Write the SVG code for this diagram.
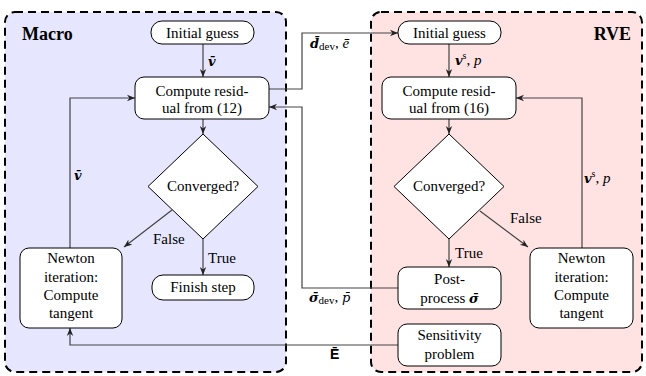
<svg xmlns="http://www.w3.org/2000/svg" width="646" height="376" viewBox="0 0 646 376" font-family="Liberation Serif, Times New Roman, serif">
<style>
text{font-family:'Liberation Serif',serif}
.t{font-size:15px;fill:#000;text-anchor:middle}
.l{font-size:15px;fill:#000}
.mb{font-family:'DejaVu Serif',serif;font-style:italic;font-weight:bold;font-size:13px}
.mi{font-family:'DejaVu Serif',serif;font-style:italic;font-size:13px}
.box{fill:#fff;stroke:#000;stroke-width:1}
.ca{fill:none;stroke:#444;stroke-width:1.2;marker-end:url(#a)}
.reg{stroke:#000;stroke-width:2;stroke-dasharray:8 5}
.ttl{font-size:18px;font-weight:bold}
.sans{font-family:'Liberation Sans',Arial,sans-serif;font-size:14px;font-weight:bold}
</style>
<defs>
<marker id="a" viewBox="0 0 10 10" refX="10" refY="5" markerWidth="8" markerHeight="8" markerUnits="userSpaceOnUse" orient="auto">
<path d="M0,1 L10,5 L0,9 L3,5 z" fill="#222"/>
</marker>
</defs>
<g id="macro-region">
<rect x="5" y="12" width="281" height="360" rx="10" fill="#e6e6ff" class="reg"/>
<text x="22" y="40" class="ttl">Macro</text>
</g>
<g id="rve-region">
<rect x="371" y="12" width="271" height="360" rx="10" fill="#ffe3e3" class="reg"/>
<text x="631" y="40" class="ttl" text-anchor="end">RVE</text>
</g>
<g id="connectors">
<path class="ca" d="M203,44 V77"/>
<path class="ca" d="M203,119 V134"/>
<path class="ca" d="M172,210 L124,247"/>
<path class="ca" d="M203,239 V275"/>
<path class="ca" d="M70,248 V98 H135"/>
<path class="ca" d="M398,345 H70 V328"/>
<path class="ca" d="M269,89 H302 V33 H398"/>
<path class="ca" d="M398,288 H302 V107 H269"/>
<path class="ca" d="M449,44 V77"/>
<path class="ca" d="M449,119 V134"/>
<path class="ca" d="M480,211 L528,247"/>
<path class="ca" d="M449,239 V267"/>
<path class="ca" d="M582,248 V98 H516"/>
<text class="l" x="208" y="66"><tspan class="mb">v̄</tspan></text>
<text class="l" x="74" y="180"><tspan class="mb">v̄</tspan></text>
<text class="l" x="153" y="244">False</text>
<text class="l" x="208" y="263">True</text>
<text class="l" x="455" y="65"><tspan class="mb">v</tspan><tspan font-size="10" dy="-6">s</tspan><tspan dy="6">, </tspan><tspan font-style="italic">p</tspan></text>
<text class="l" x="584" y="183"><tspan class="mb">v</tspan><tspan font-size="10" dy="-6">s</tspan><tspan dy="6">, </tspan><tspan font-style="italic">p</tspan></text>
<text class="l" x="510" y="223">False</text>
<text class="l" x="455" y="258">True</text>
<text class="l" x="310" y="48"><tspan class="mb">d̄</tspan><tspan font-size="11" dy="2">dev</tspan><tspan dy="-2">, </tspan><tspan font-style="italic">ē</tspan></text>
<text class="l" x="309" y="302"><tspan class="mb">σ̄</tspan><tspan font-size="11" dy="2">dev</tspan><tspan dy="-2">, </tspan><tspan class="mi">p̄</tspan></text>
<text x="330" y="359" class="sans">Ē</text>
</g>
<g id="macro-initial">
<rect class="box" x="151" y="21" width="103" height="23" rx="11"/>
<text class="t" x="202.5" y="37.5">Initial guess</text>
</g>
<g id="macro-residual">
<rect class="box" x="135" y="77" width="134" height="42" rx="9"/>
<text class="t" x="202" y="95.5">Compute resid-</text>
<text class="t" x="202" y="112.5">ual from (12)</text>
</g>
<g id="macro-converged">
<polygon class="box" points="203,134 258,186.5 203,239 148,186.5"/>
<text class="t" x="203" y="191">Converged?</text>
</g>
<g id="macro-finish">
<rect class="box" x="152" y="275" width="102" height="25" rx="11"/>
<text class="t" x="203" y="292">Finish step</text>
</g>
<g id="macro-newton">
<rect class="box" x="20" y="248" width="102" height="80" rx="9"/>
<text class="t" x="71" y="263">Newton</text>
<text class="t" x="71" y="281.5">iteration:</text>
<text class="t" x="71" y="300">Compute</text>
<text class="t" x="71" y="318">tangent</text>
</g>
<g id="rve-initial">
<rect class="box" x="398" y="21" width="103" height="23" rx="11"/>
<text class="t" x="449.5" y="37.5">Initial guess</text>
</g>
<g id="rve-residual">
<rect class="box" x="382" y="77" width="134" height="42" rx="9"/>
<text class="t" x="449" y="95.5">Compute resid-</text>
<text class="t" x="449" y="112.5">ual from (16)</text>
</g>
<g id="rve-converged">
<polygon class="box" points="449,134 504,186.5 449,239 394,186.5"/>
<text class="t" x="449" y="191">Converged?</text>
</g>
<g id="rve-post">
<rect class="box" x="398" y="267" width="103" height="42" rx="9"/>
<text class="t" x="449.5" y="283.5">Post-</text>
<text class="t" x="449.5" y="302.5">process <tspan class="mb">σ̄</tspan></text>
</g>
<g id="rve-sensitivity">
<rect class="box" x="398" y="324" width="103" height="42" rx="9"/>
<text class="t" x="449.5" y="340">Sensitivity</text>
<text class="t" x="449.5" y="358.5">problem</text>
</g>
<g id="rve-newton">
<rect class="box" x="530" y="248" width="103" height="80" rx="9"/>
<text class="t" x="581.5" y="263">Newton</text>
<text class="t" x="581.5" y="281.5">iteration:</text>
<text class="t" x="581.5" y="300">Compute</text>
<text class="t" x="581.5" y="318">tangent</text>
</g>
</svg>
